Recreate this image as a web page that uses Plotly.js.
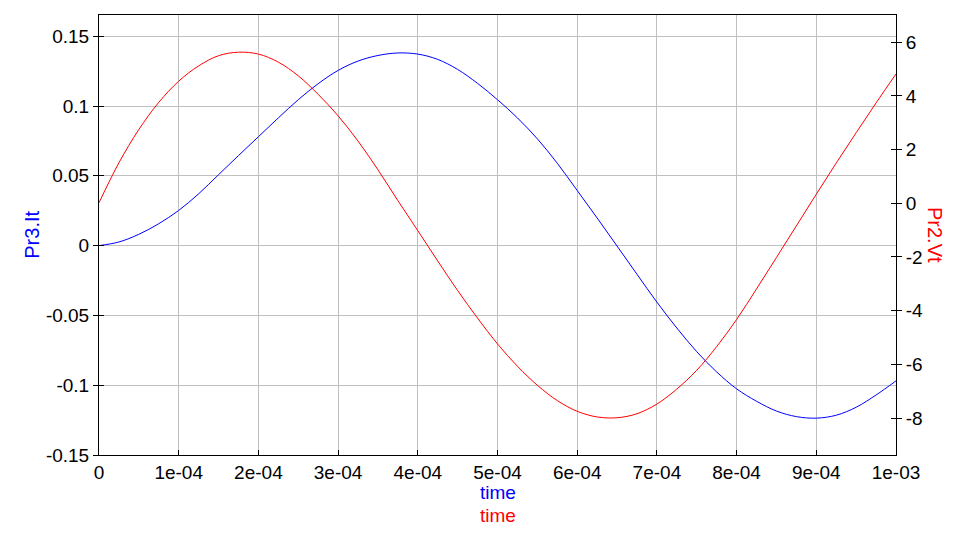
<!DOCTYPE html>
<html>
<head>
<meta charset="utf-8">
<script src="https://cdn.plot.ly/plotly-3.0.1.min.js"></script>
<style>
html, body { margin: 0; padding: 0; background: #ffffff; }
#chart { width: 967px; height: 560px; }
</style>
</head>
<body>
<div id="chart"></div>
<script>
// time samples (s)
const time = [0, 0.25e-4, 0.5e-4, 0.75e-4, 1.0e-4, 1.25e-4, 1.5e-4, 1.75e-4, 2.0e-4, 2.25e-4,
  2.5e-4, 2.75e-4, 3.0e-4, 3.25e-4, 3.5e-4, 3.75e-4, 4.0e-4, 4.25e-4, 4.5e-4, 4.75e-4,
  5.0e-4, 5.25e-4, 5.5e-4, 5.75e-4, 6.0e-4, 6.25e-4, 6.5e-4, 6.75e-4, 7.0e-4, 7.25e-4,
  7.5e-4, 7.75e-4, 8.0e-4, 8.25e-4, 8.5e-4, 8.75e-4, 9.0e-4, 9.25e-4, 9.5e-4, 9.75e-4, 1.0e-3];

// Pr3.It (left axis)
const pr3It = [0.0000, 0.0026, 0.0081, 0.0157, 0.0252, 0.0371, 0.0508, 0.0645, 0.0780, 0.0915,
  0.1045, 0.1160, 0.1255, 0.1322, 0.1362, 0.1380, 0.1372, 0.1334, 0.1262, 0.1162,
  0.1045, 0.0915, 0.0765, 0.0590, 0.0395, 0.0198, -0.0003, -0.0205, -0.0405, -0.0590,
  -0.0760, -0.0905, -0.1026, -0.1115, -0.1185, -0.1225, -0.1236, -0.1215, -0.1158, -0.1070, -0.0969];

// Pr2.Vt (right axis)
const pr2Vt = [0.02, 1.51, 2.75, 3.76, 4.55, 5.12, 5.50, 5.63, 5.56, 5.26,
  4.75, 4.06, 3.26, 2.32, 1.25, 0.10, -1.02, -2.15, -3.25, -4.28,
  -5.24, -6.07, -6.78, -7.35, -7.75, -7.96, -7.99, -7.84, -7.48, -6.92,
  -6.22, -5.34, -4.33, -3.19, -2.02, -0.84, 0.34, 1.50, 2.63, 3.74, 4.82];

const xTickVals = [0, 1e-4, 2e-4, 3e-4, 4e-4, 5e-4, 6e-4, 7e-4, 8e-4, 9e-4, 1e-3];
const xTickText = ["0", "1e-04", "2e-04", "3e-04", "4e-04", "5e-04", "6e-04", "7e-04", "8e-04", "9e-04", "1e-03"];
const yLeftTickVals = [-0.15, -0.1, -0.05, 0, 0.05, 0.1, 0.15];
const yLeftTickText = ["-0.15", "-0.1", "-0.05", "0", "0.05", "0.1", "0.15"];
const yRightTickVals = [-8, -6, -4, -2, 0, 2, 4, 6];
const yRightTickText = ["-8", "-6", "-4", "-2", "0", "2", "4", "6"];

const FONT = "Liberation Sans, Arial, sans-serif";
const tickFont = { family: FONT, size: 19, color: "#000000" };
const leftRange = [-0.15, 0.1652];
const rightRange = [-9.378, 7.016];

const traces = [
  { x: time, y: pr3It, type: "scatter", mode: "lines", xaxis: "x", yaxis: "y",
    line: { color: "#0000ff", width: 1, shape: "spline", smoothing: 1 }, hoverinfo: "skip" },
  { x: time, y: pr2Vt, type: "scatter", mode: "lines", xaxis: "x", yaxis: "y2",
    line: { color: "#ff0000", width: 1, shape: "spline", smoothing: 1 }, hoverinfo: "skip" },
  { x: [], y: [], type: "scatter", mode: "lines", xaxis: "x", yaxis: "y3", hoverinfo: "skip" },
  { x: [], y: [], type: "scatter", mode: "lines", xaxis: "x", yaxis: "y4", hoverinfo: "skip" }
];

const layout = {
  width: 967, height: 560,
  margin: { l: 99, r: 71, t: 15, b: 105, pad: 0 },
  paper_bgcolor: "#ffffff", plot_bgcolor: "#ffffff",
  showlegend: false,
  font: { family: FONT, size: 19, color: "#000000" },
  xaxis: {
    range: [0, 1e-3], tickvals: xTickVals, ticktext: xTickText,
    ticks: "inside", ticklen: 5, tickwidth: 1, tickcolor: "#000000",
    showline: true, linecolor: "#000000", linewidth: 1, mirror: true,
    showgrid: true, gridcolor: "#c0c0c0", gridwidth: 1, zeroline: false,
    tickfont: tickFont, fixedrange: true
  },
  yaxis: {
    range: leftRange, tickvals: yLeftTickVals, ticktext: yLeftTickText,
    ticks: "outside", ticklen: 5, tickwidth: 1, tickcolor: "#000000",
    showline: true, linecolor: "#000000", linewidth: 1, mirror: true,
    showgrid: true, gridcolor: "#c0c0c0", gridwidth: 1, zeroline: false,
    tickfont: tickFont, fixedrange: true
  },
  yaxis2: {
    overlaying: "y", side: "right",
    range: rightRange, tickvals: yRightTickVals, ticktext: yRightTickText,
    ticks: "outside", ticklen: 5, tickwidth: 1, tickcolor: "#000000",
    showline: true, linecolor: "#000000", linewidth: 1,
    showgrid: false, zeroline: false, tickfont: tickFont, fixedrange: true
  },
  yaxis3: {
    overlaying: "y", side: "left",
    range: leftRange, tickvals: yLeftTickVals,
    ticks: "inside", ticklen: 5, tickwidth: 1, tickcolor: "#000000",
    showticklabels: false, showline: false, showgrid: false, zeroline: false, fixedrange: true
  },
  yaxis4: {
    overlaying: "y", side: "right",
    range: rightRange, tickvals: yRightTickVals,
    ticks: "inside", ticklen: 5, tickwidth: 1, tickcolor: "#000000",
    showticklabels: false, showline: false, showgrid: false, zeroline: false, fixedrange: true
  },
  annotations: [
    { text: "Pr3.It", xref: "paper", yref: "paper", x: -0.0844, y: 0.5,
      xanchor: "center", yanchor: "middle", textangle: -90, showarrow: false,
      font: { family: FONT, size: 20, color: "#0000ff" } },
    { text: "Pr2.Vt", xref: "paper", yref: "paper", x: 1.049, y: 0.5,
      xanchor: "center", yanchor: "middle", textangle: 90, showarrow: false,
      font: { family: FONT, size: 20, color: "#ff0000" } },
    { text: "time", xref: "paper", yref: "paper", x: 0.5, y: -0.0850,
      xanchor: "center", yanchor: "middle", showarrow: false,
      font: { family: FONT, size: 19, color: "#0000ff" } },
    { text: "time", xref: "paper", yref: "paper", x: 0.5, y: -0.1370,
      xanchor: "center", yanchor: "middle", showarrow: false,
      font: { family: FONT, size: 19, color: "#ff0000" } }
  ]
};

Plotly.newPlot("chart", traces, layout, { displayModeBar: false, staticPlot: true });
</script>
</body>
</html>
